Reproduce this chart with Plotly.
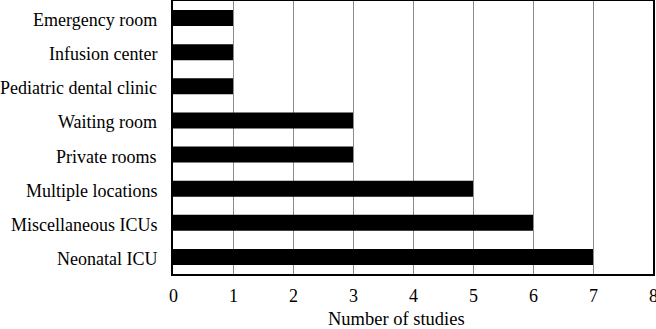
import plotly.graph_objects as go

categories = ["Neonatal ICU", "Miscellaneous ICUs", "Multiple locations", "Private rooms",
              "Waiting room", "Pediatric dental clinic", "Infusion center", "Emergency room"]
studies = [7, 6, 5, 3, 3, 1, 1, 1]
x_ticks = [0, 1, 2, 3, 4, 5, 6, 7, 8]
x_title = "Number of studies"

font = "Liberation Serif"
txt = dict(family=font, size=18, color="black")

fig = go.Figure(go.Bar(
    x=studies, y=categories, orientation="h",
    marker=dict(color="black", line=dict(width=0)),
    width=0.47,
))

# category labels (serif), placed through the y axis' category scale
for c in categories:
    fig.add_annotation(x=0, xref="paper", y=c, yref="y", text=c, showarrow=False,
                       xanchor="right", yanchor="middle", xshift=-14, yshift=-2, font=txt)
# x tick labels, placed through the x axis' scale
for t in x_ticks:
    fig.add_annotation(x=t, xref="x", y=0, yref="paper", text=str(t), showarrow=False,
                       xanchor="center", yanchor="middle", yshift=-22, font=txt)
fig.add_annotation(x=0.4656, xref="paper", y=0, yref="paper", text=x_title, showarrow=False,
                   xanchor="center", yanchor="middle", yshift=-45,
                   font=dict(family=font, size=18.5, color="black"))

fig.update_layout(
    width=656, height=329,
    margin=dict(l=173, r=3, t=1, b=55),
    paper_bgcolor="white", plot_bgcolor="white",
    font=txt,
    showlegend=False,
)
fig.update_xaxes(
    range=[0, 8], tickvals=x_ticks, showticklabels=False,
    showgrid=True, gridcolor="#8c8c8c", gridwidth=1,
    showline=True, linecolor="black", linewidth=2, mirror=True,
    ticks="", zeroline=False, automargin=False,
)
fig.update_yaxes(
    categoryorder="array", categoryarray=categories,
    range=[-0.5, 7.5], automargin=False, showticklabels=False,
    showline=True, linecolor="black", linewidth=2, mirror=True,
    showgrid=False, ticks="",
)

fig.write_html("out.html", post_script="document.body.style.margin='0';",
               config={"displayModeBar": False})
